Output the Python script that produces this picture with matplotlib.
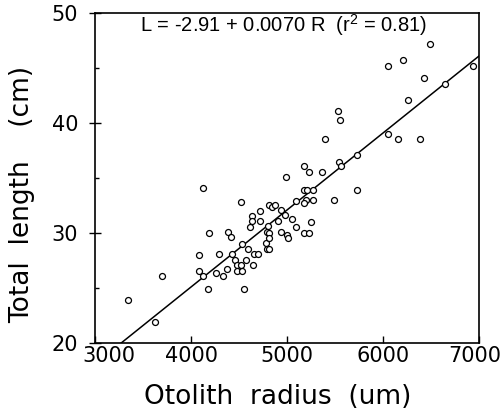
import matplotlib

matplotlib.use("Agg")
import matplotlib.pyplot as plt
import matplotlib.transforms as mtransforms
import numpy as np

# otolith radius (um) and total length (cm)
radius = [
    3344, 3625, 3698, 4083, 4083, 4120, 4125, 4177, 4188, 4260,
    4333, 4292, 4375, 4389, 4420, 4427, 4458, 4479, 4526, 4482,
    4528, 4521, 4536, 4547, 4578, 4594, 4632, 4632, 4618, 4646,
    4656, 4695, 4722, 4722, 4781, 4792, 4816, 4792, 4809, 4809,
    4802, 4809, 4844, 4878, 4906, 4941, 4979, 4934, 4995, 5013,
    4990, 5047, 5091, 5094, 5180, 5229, 5180, 5208, 5266, 5193,
    5172, 5266, 5245, 5177, 5234, 5361, 5391, 5493, 5531, 5557,
    5542, 5565, 5724, 5724, 6055, 6159, 6389, 6049, 6211, 6257,
    6425, 6490, 6648, 6934,
]
length = [
    23.9, 21.9, 26.1, 28.0, 26.55, 26.1, 34.05, 24.95, 30.0, 26.35,
    26.1, 28.05, 26.75, 30.05, 29.6, 28.05, 27.55, 27.05, 27.05, 26.55,
    26.55, 32.8, 29.0, 24.9, 27.55, 28.55, 31.5, 31.1, 30.5, 27.05,
    28.05, 28.05, 32.0, 31.05, 29.05, 28.55, 28.55, 30.05, 30.0, 29.55,
    30.65, 32.5, 32.4, 32.5, 31.05, 32.05, 31.6, 30.05, 29.8, 29.5,
    35.1, 31.25, 32.95, 30.5, 36.1, 35.55, 33.95, 33.95, 33.95, 33.0,
    32.75, 33.0, 31.0, 30.0, 30.0, 35.55, 38.55, 33.0, 41.05, 40.25,
    36.45, 36.05, 37.1, 33.95, 39.0, 38.55, 38.55, 45.15, 45.7, 42.05,
    44.05, 47.2, 43.55, 45.2,
]

# regression L = a + b R
intercept = -2.91
slope = 0.0070

x_ticks = [3000, 4000, 5000, 6000, 7000]
y_ticks = [20, 30, 40, 50]

plt.rcParams["font.family"] = "DejaVu Sans"
plt.rcParams["mathtext.fontset"] = "custom"
plt.rcParams["mathtext.rm"] = "Liberation Sans"

fig = plt.figure(figsize=(5.04, 4.11), dpi=100)
ax = fig.add_axes([95 / 504, 68 / 411, 384 / 504, 330 / 411])

ax.plot(radius, length, linestyle="none", marker="o", ms=4.3,
        mfc="white", mec="black", mew=0.9, zorder=3)

fit_x = np.array([x_ticks[0], x_ticks[-1]])
ax.plot(fit_x, intercept + slope * fit_x, color="black", lw=1.1, zorder=2)

ax.set_xlim(x_ticks[0], x_ticks[-1])
ax.set_ylim(y_ticks[0], y_ticks[-1])
ax.set_xticks(x_ticks)
ax.set_yticks(y_ticks)
ax.set_yticks([25, 35, 45], minor=True)

ax.tick_params(axis="x", direction="in", length=5, width=1, pad=2.5,
               labelsize=15)
ax.tick_params(axis="y", which="major", direction="inout", length=9,
               width=1, pad=7.5, labelsize=15)
ax.tick_params(axis="y", which="minor", direction="in", length=3, width=1)
for spine in ax.spines.values():
    spine.set_linewidth(1.2)

# end labels nudged inward like the original
xlabels = ax.get_xticklabels()
shifts = {0: 13.5, len(xlabels) - 1: -4}
for i, dx in shifts.items():
    off = mtransforms.ScaledTranslation(dx / 100, 0, fig.dpi_scale_trans)
    xlabels[i].set_transform(xlabels[i].get_transform() + off)

ax.text(0.49, 0.962, r"L = -2.91 + 0.0070 R  (r$\mathregular{^2}$ = 0.81)",
        transform=ax.transAxes, ha="center", va="center",
        fontsize=14.5, family="Liberation Sans")

fig.text(278 / 504, 1 - 397 / 411, "Otolith  radius  (um)",
         ha="center", va="center", fontsize=19)
fig.text(22 / 504, 1 - 194 / 411, "Total  length    (cm)", rotation=90,
         ha="center", va="center", fontsize=19)

fig.savefig("out.png", dpi=100)
plt.close(fig)
